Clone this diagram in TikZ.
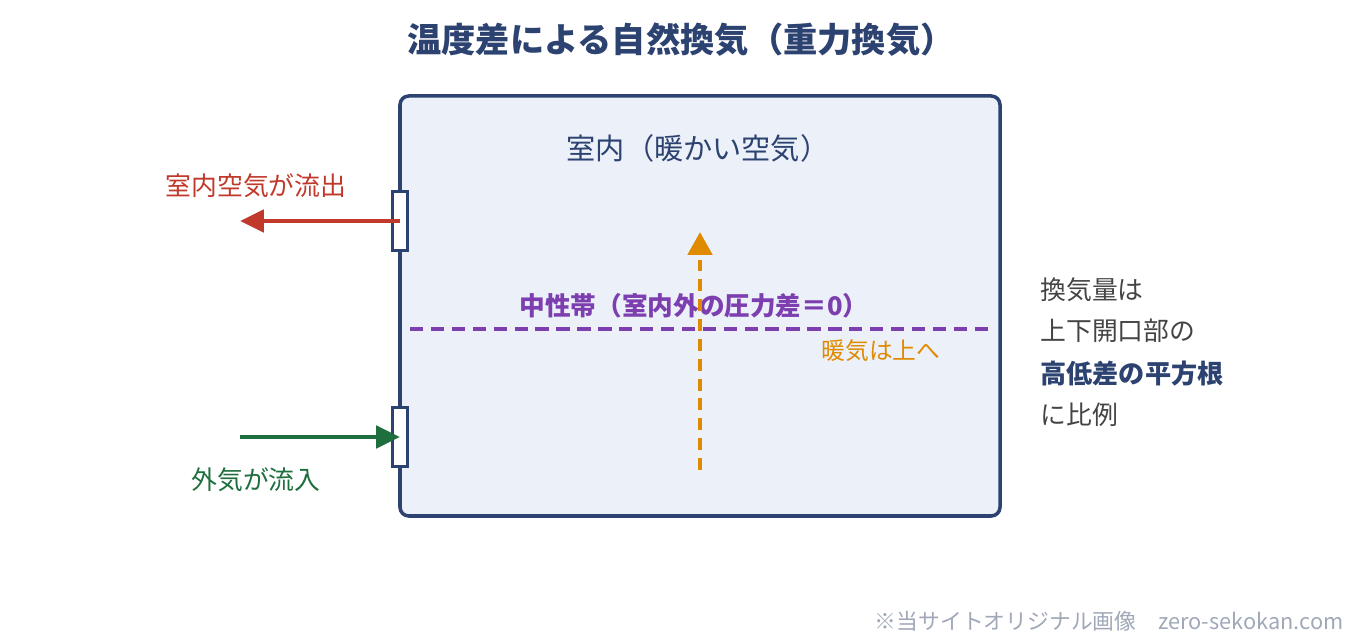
\documentclass[tikz,border=0pt]{standalone}
\usepackage{fontspec}
\setmainfont{Noto Sans CJK JP}
\usetikzlibrary{arrows.meta}

\definecolor{navy}{RGB}{44,66,112}
\definecolor{roomfill}{RGB}{236,241,249}
\definecolor{outred}{RGB}{192,57,43}
\definecolor{ingreen}{RGB}{30,110,62}
\definecolor{nzpurple}{RGB}{125,63,176}
\definecolor{warmorange}{RGB}{224,138,0}
\definecolor{notegray}{RGB}{68,68,68}
\definecolor{markgray}{RGB}{160,168,184}

\begin{document}
\begin{tikzpicture}[x=0.02cm,y=-0.02cm,
	opening/.style={draw=navy,fill=white,line width=1.9pt,minimum width=0.29cm,minimum height=1.18cm,inner sep=0pt},
	flow/.style={line width=2.8pt,-{Triangle[length=13.6pt,width=12.5pt]}},
	lbl/.style={inner sep=0pt,font=\fontsize{14.7}{16}\selectfont}]
	
	\useasboundingbox (0,0) rectangle (1360,644);
	
	\node[inner sep=0pt,text=navy,font=\fontsize{19.5}{22}\selectfont\bfseries] (title) at (681,40) {温度差による自然換気（重力換気）};
	
	% room
	\coordinate (roomNW) at (400,96);
	\coordinate (roomSE) at (1000,516);
	\draw[navy,fill=roomfill,line width=2pt,rounded corners=5pt] (roomNW) rectangle (roomSE);
	\node[lbl,text=navy,font=\fontsize{16.6}{19}\selectfont] (room) at (698,148) {室内（暖かい空気）};
	
	% openings
	\node[opening] (upper) at (400,221) {};
	\node[opening] (lower) at (400,437) {};
	
	\coordinate (exhaust) at (240,221);
	\coordinate (outside) at (240,437);
	\draw[flow,outred] (upper.center) -- (exhaust);
	\draw[flow,ingreen] (outside) -- (lower.center);
	\node[lbl,text=outred] (outlbl) at (256,186) {室内空気が流出};
	\node[lbl,text=ingreen] (inlbl) at (256,480) {外気が流入};
	
	% neutral zone
	\coordinate (nzL) at (410,329);
	\coordinate (nzR) at (990,329);
	\draw[nzpurple,line width=2.3pt,dash pattern=on 7.6pt off 4.3pt] (nzL) -- (nzR);
	\node[lbl,text=nzpurple,font=\fontsize{14.6}{16}\selectfont\bfseries] (nzlbl) at (694,306) {中性帯（室内外の圧力差＝0）};
	
	% warm air
	\coordinate (warmlow) at (700,470);
	\coordinate (warmtop) at (700,232);
	\draw[warmorange,line width=2.8pt,dash pattern=on 6.8pt off 4.5pt,-{Triangle[length=13pt,width=13.6pt]}] (warmlow) -- (warmtop);
	\node[lbl,text=warmorange,font=\fontsize{13.5}{16}\selectfont] (warmlbl) at (881,351) {暖気は上へ};
	
	% note
	\node[lbl,anchor=west,text=notegray] (note1) at (1040,290) {換気量は};
	\node[lbl,anchor=west,text=notegray] (note2) at (1040,331) {上下開口部の};
	\node[lbl,anchor=west,text=navy,font=\fontsize{14.9}{16}\selectfont\bfseries] (note3) at (1040,374) {高低差の平方根};
	\node[lbl,anchor=west,text=notegray] (note4) at (1040,415) {に比例};
	
	\node[inner sep=0pt,anchor=east,text=markgray,font=\fontsize{12.4}{14}\selectfont] (mark) at (1344,621) {※当サイトオリジナル画像　zero-sekokan.com};
	
\end{tikzpicture}
\end{document}
